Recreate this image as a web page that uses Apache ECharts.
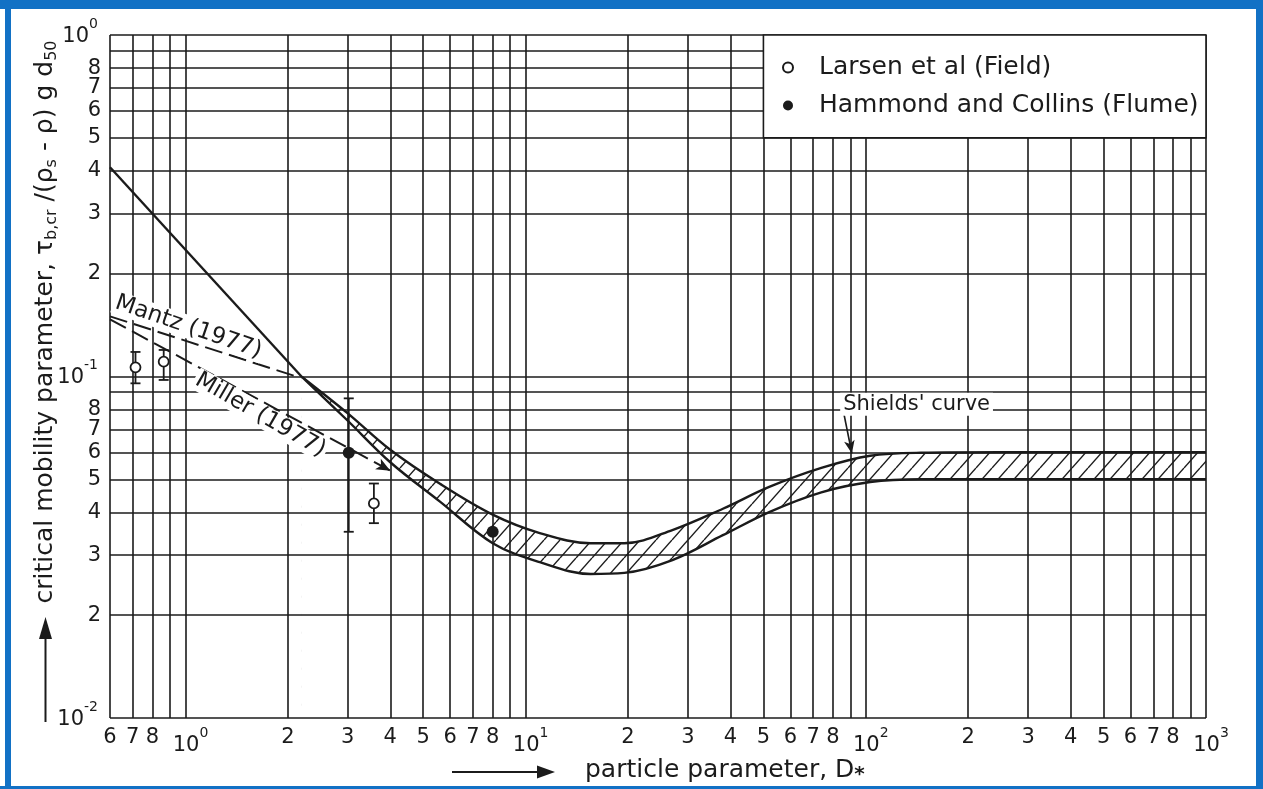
<!DOCTYPE html>
<html>
<head>
<meta charset="utf-8">
<title>Critical mobility parameter vs particle parameter</title>
<script src="https://cdn.jsdelivr.net/npm/echarts@6/dist/echarts.min.js"></script>
<style>
  html, body { margin: 0; padding: 0; background: #ffffff; }
  #chart { width: 1263px; height: 789px; }
</style>
</head>
<body>
<div id="chart"></div>
<script>
// ---------------- data ----------------
// grid lines of the log-log paper
const xGridValues = [0.7, 0.8, 0.9, 1, 2, 3, 4, 5, 6, 7, 8, 9, 10, 20, 30, 40, 50, 60, 70, 80, 90,
                     100, 200, 300, 400, 500, 600, 700, 800, 900, 1000];
const yGridValues = [0.02, 0.03, 0.04, 0.05, 0.06, 0.07, 0.08, 0.09, 0.1,
                     0.2, 0.3, 0.4, 0.5, 0.6, 0.7, 0.8, 0.9, 1];

// tick labels (mantissa digits and powers of ten)
const xTickValues = [0.6, 0.7, 0.8, 2, 3, 4, 5, 6, 7, 8, 20, 30, 40, 50, 60, 70, 80,
                     200, 300, 400, 500, 600, 700, 800];
const xTickLabels = ['6', '7', '8', '2', '3', '4', '5', '6', '7', '8', '2', '3', '4', '5', '6', '7', '8',
                     '2', '3', '4', '5', '6', '7', '8'];
const xPowerValues = [1, 10, 100, 1000];
const xPowerLabels = ['0', '1', '2', '3'];
const yTickValues = [0.02, 0.03, 0.04, 0.05, 0.06, 0.07, 0.08, 0.2, 0.3, 0.4, 0.5, 0.6, 0.7, 0.8];
const yTickLabels = ['2', '3', '4', '5', '6', '7', '8', '2', '3', '4', '5', '6', '7', '8'];
const yPowerValues = [0.01, 0.1, 1];
const yPowerLabels = ['-2', '-1', '0'];

// Shields' curve: steep fine-grain branch, then the band
const steepX = [0.6, 2.2];
const steepY = [0.41, 0.0997];
const bandX     = [2.2, 3, 4, 5.6, 8, 11, 15.5, 19.5, 27, 38, 52, 74, 103, 145, 250, 1000];
const bandUpper = [0.0997, 0.078, 0.061, 0.0485, 0.0394, 0.0348, 0.0325, 0.0325, 0.0355, 0.041,
                   0.0475, 0.054, 0.0586, 0.0598, 0.06, 0.06];
const bandLower = [0.0997, 0.0742, 0.0561, 0.043, 0.0325, 0.0286, 0.0264, 0.0266, 0.029, 0.0343,
                   0.0401, 0.0458, 0.0491, 0.05, 0.05, 0.05];

// Mantz (1977) and Miller (1977) relations
const mantzX = [0.6, 2.15];
const mantzY = [0.15, 0.0995];
const millerX = [0.6, 4.0];
const millerY = [0.147, 0.053];

// Larsen et al (Field): value with error range
const larsenX  = [0.713, 0.863, 3.58];
const larsenY  = [0.1064, 0.1105, 0.0425];
const larsenLo = [0.0955, 0.0977, 0.0372];
const larsenHi = [0.118, 0.1196, 0.0486];

// Hammond and Collins (Flume)
const hammondX  = [3.02, 8.0];
const hammondY  = [0.0598, 0.0351];
const hammondLo = [0.0351, null];
const hammondHi = [0.0863, null];

// ---------------- styling ----------------
const FONT = 'DejaVu Sans';
const INK = '#1b1b1b';
const FRAME = '#1271c5';

const zip = (xs, ys) => xs.map((x, i) => [x, ys[i]]);

function hatchPattern() {
  const w = 16, h = 18;
  const c = document.createElement('canvas');
  c.width = w; c.height = h;
  const ctx = c.getContext('2d');
  ctx.strokeStyle = INK;
  ctx.lineWidth = 1.4;
  for (let k = -1; k <= 1; k++) {
    ctx.beginPath();
    ctx.moveTo(k * w, h);
    ctx.lineTo(k * w + w, 0);
    ctx.stroke();
  }
  return c;
}

function errorBars(name, xs, lo, hi, z) {
  const data = [];
  xs.forEach((x, i) => { if (lo[i] != null) data.push([x, lo[i], hi[i]]); });
  return {
    type: 'custom', name, data, z, silent: true,
    encode: { x: 0, y: [1, 2] },
    renderItem(params, api) {
      const x = api.value(0);
      const a = api.coord([x, api.value(1)]);
      const b = api.coord([x, api.value(2)]);
      const cap = 5;
      const st = { stroke: INK, lineWidth: 1.8 };
      return {
        type: 'group',
        children: [
          { type: 'line', shape: { x1: a[0], y1: a[1], x2: b[0], y2: b[1] }, style: st },
          { type: 'line', shape: { x1: a[0] - cap, y1: a[1], x2: a[0] + cap, y2: a[1] }, style: st },
          { type: 'line', shape: { x1: b[0] - cap, y1: b[1], x2: b[0] + cap, y2: b[1] }, style: st }
        ]
      };
    }
  };
}

function labelSeries(points, labelOpts, z) {
  return {
    type: 'scatter', data: points, symbolSize: 0, silent: true, z: z || 7,
    itemStyle: { opacity: 1 },
    label: Object.assign({
      show: true, position: 'inside', color: INK, fontFamily: FONT,
      textBorderWidth: 0, textBorderColor: 'transparent',
      formatter: p => p.data[2]
    }, labelOpts)
  };
}

const powerRich = {
  b: { fontSize: 21, fontFamily: FONT, color: INK, lineHeight: 30, verticalAlign: 'bottom',
       textBorderWidth: 0 },
  p: { fontSize: 14, fontFamily: FONT, color: INK, lineHeight: 30, verticalAlign: 'top',
       textBorderWidth: 0 }
};

const chart = echarts.init(document.getElementById('chart'), null, { renderer: 'canvas' });

const option = {
  animation: false,
  backgroundColor: '#ffffff',
  tooltip: { show: false },
  grid: { left: 110, right: 57, top: 35, bottom: 71, containLabel: false },
  xAxis: {
    type: 'log', logBase: 10, min: 0.6, max: 1000,
    axisLine: { show: false }, axisTick: { show: false },
    axisLabel: { show: false }, splitLine: { show: false }
  },
  yAxis: {
    type: 'log', logBase: 10, min: 0.01, max: 1,
    axisLine: { show: false }, axisTick: { show: false },
    axisLabel: { show: false }, splitLine: { show: false }
  },
  legend: {
    data: ['Larsen et al (Field)', 'Hammond and Collins (Flume)'],
    orient: 'vertical', left: 777, top: 50, z: 12,
    itemWidth: 10, itemHeight: 10, itemGap: 13,
    icon: 'circle', selectedMode: false,
    textStyle: { fontSize: 25, fontFamily: FONT, color: INK, padding: [0, 0, 0, 21] }
  },
  series: [
    // hatched band between the two Shields boundaries
    {
      type: 'line', name: 'band-upper', data: zip(bandX, bandUpper), smooth: 0.35,
      symbol: 'none', silent: true, z: 1,
      lineStyle: { color: INK, width: 2.4 },
      areaStyle: { color: { image: hatchPattern(), repeat: 'repeat' }, opacity: 1, origin: 'start' }
    },
    {
      type: 'line', name: 'band-lower', data: zip(bandX, bandLower), smooth: 0.35,
      symbol: 'none', silent: true, z: 2,
      lineStyle: { color: INK, width: 2.4 },
      areaStyle: { color: '#ffffff', opacity: 1, origin: 'start' }
    },
    // log-paper grid
    {
      type: 'line', name: 'grid', data: [[1, 0.1]], symbol: 'none', silent: true, z: 3,
      lineStyle: { opacity: 0 },
      markLine: {
        z: 3, silent: true, symbol: 'none', animation: false,
        label: { show: false },
        lineStyle: { color: INK, width: 1.6, type: 'solid' },
        emphasis: { disabled: true },
        data: [
          ...xGridValues.map(v => ({ xAxis: v })),
          ...yGridValues.map(v => ({ yAxis: v })),
          { xAxis: 0.6 }, { yAxis: 0.01 }
        ]
      }
    },
    // steep branch of the threshold curve
    {
      type: 'line', name: 'steep', data: zip(steepX, steepY),
      symbol: 'none', silent: true, z: 4,
      lineStyle: { color: INK, width: 2.4 }
    },
    // Mantz (1977)
    {
      type: 'line', name: 'Mantz (1977)', data: zip(mantzX, mantzY),
      symbol: 'none', silent: true, z: 4,
      lineStyle: { color: INK, width: 2, type: [18, 7] }
    },
    // Miller (1977), ending in an arrow on the band
    {
      type: 'line', name: 'Miller (1977)', data: [], symbol: 'none', silent: true, z: 4,
      markLine: {
        z: 4, silent: true, animation: false, symbol: ['none', 'arrow'], symbolSize: [9, 14],
        label: { show: false },
        emphasis: { disabled: true },
        lineStyle: { color: INK, width: 2, type: [18, 7] },
        data: [[
          { coord: [millerX[0], millerY[0]] },
          { coord: [millerX[1], millerY[1]] }
        ]]
      }
    },
    errorBars('larsen-err', larsenX, larsenLo, larsenHi, 5),
    errorBars('hammond-err', hammondX, hammondLo, hammondHi, 5),
    {
      type: 'scatter', name: 'Larsen et al (Field)', data: zip(larsenX, larsenY),
      symbol: 'circle', symbolSize: 10, silent: true, z: 6,
      itemStyle: { color: '#ffffff', borderColor: INK, borderWidth: 1.8, opacity: 1 }
    },
    {
      type: 'scatter', name: 'Hammond and Collins (Flume)', data: zip(hammondX, hammondY),
      symbol: 'circle', symbolSize: 12, silent: true, z: 6,
      itemStyle: { color: INK, opacity: 1 }
    },
    // tick labels
    labelSeries(xTickValues.map((v, i) => [v, 0.01, xTickLabels[i]]),
      { fontSize: 21, offset: [0, 20] }),
    labelSeries(xPowerValues.map((v, i) => [v, 0.01, '{b|10}{p|' + xPowerLabels[i] + '}']),
      { offset: [5, 23], rich: powerRich }),
    labelSeries(yTickValues.map((v, i) => [0.6, v, yTickLabels[i]]),
      { fontSize: 21, align: 'right', offset: [-9, 0] }),
    labelSeries(yPowerValues.map((v, i) => [0.6, v, '{b|10}{p|' + yPowerLabels[i] + '}']),
      { align: 'right', offset: [-12, -3], rich: powerRich }),
    // curve annotations
    labelSeries([[1.02, 0.1396, 'Mantz (1977)']],
      { fontSize: 23, rotate: -19, backgroundColor: '#ffffff', padding: [0, 2] }, 7),
    labelSeries([[1.66, 0.0771, 'Miller (1977)']],
      { fontSize: 23, rotate: -30, backgroundColor: '#ffffff', padding: [0, 2] }, 7),
    Object.assign(
      labelSeries([[141, 0.083, "Shields' curve"]],
        { fontSize: 21, backgroundColor: '#ffffff', padding: [1, 3] }, 7),
      {
        markLine: {
          z: 7, silent: true, animation: false, label: { show: false },
          emphasis: { disabled: true },
          lineStyle: { color: INK, width: 1.6, type: 'solid' },
          data: [
            [{ coord: [86, 0.0787], symbol: 'none' }, { coord: [233, 0.0787], symbol: 'none' }],
            [{ coord: [86, 0.0787], symbol: 'none' },
             { coord: [91, 0.0595], symbol: 'arrow', symbolSize: [8, 13] }]
          ]
        }
      }
    ),
    // white legend panel in the upper right corner
    {
      type: 'line', name: 'legend-panel', data: [[100, 0.7]], symbol: 'none', silent: true, z: 9,
      lineStyle: { opacity: 0 },
      markArea: {
        z: 9, silent: true, animation: false,
        itemStyle: { color: '#ffffff', borderColor: INK, borderWidth: 1.6 },
        label: { show: false },
        emphasis: { disabled: true },
        data: [[{ coord: [50, 0.5] }, { coord: [1000, 1] }]]
      }
    }
  ],
  graphic: [
    // axis titles
    {
      type: 'text', x: 45, y: 322, rotation: Math.PI / 2, z: 20,
      style: {
        text: '{n|critical mobility parameter, τ}{s|b,cr}{n| /(ρ}{s|s}{n| - ρ) g d}{s|50}',
        align: 'center', verticalAlign: 'middle', fill: INK,
        fontFamily: FONT, fontSize: 25,
        rich: {
          n: { fontSize: 25, fontFamily: FONT, color: INK, lineHeight: 30, verticalAlign: 'middle' },
          s: { fontSize: 16, fontFamily: FONT, color: INK, lineHeight: 30, verticalAlign: 'bottom' }
        }
      }
    },
    {
      type: 'text', x: 585, y: 770, z: 20,
      style: {
        text: '{n|particle parameter, D}{s|*}',
        align: 'left', verticalAlign: 'middle', fill: INK,
        fontFamily: FONT, fontSize: 25,
        rich: {
          n: { fontSize: 25, fontFamily: FONT, color: INK, lineHeight: 30, verticalAlign: 'middle' },
          s: { fontSize: 20, fontFamily: FONT, fontWeight: 'bold', color: INK, lineHeight: 30, verticalAlign: 'bottom' }
        }
      }
    },
    // direction arrows beside the titles
    { type: 'line', z: 20, shape: { x1: 45.5, y1: 722, x2: 45.5, y2: 632 }, style: { stroke: INK, lineWidth: 2 } },
    { type: 'polygon', z: 20, shape: { points: [[45.5, 617], [39, 639], [52, 639]] }, style: { fill: INK } },
    { type: 'line', z: 20, shape: { x1: 452, y1: 772, x2: 542, y2: 772 }, style: { stroke: INK, lineWidth: 2 } },
    { type: 'polygon', z: 20, shape: { points: [[555, 772], [537, 765.5], [537, 778.5]] }, style: { fill: INK } },
    // blue frame
    { type: 'rect', z: 30, shape: { x: 0, y: 0, width: 1263, height: 9 }, style: { fill: FRAME } },
    { type: 'rect', z: 30, shape: { x: 5, y: 0, width: 6, height: 789 }, style: { fill: FRAME } },
    { type: 'rect', z: 30, shape: { x: 1256, y: 0, width: 7, height: 789 }, style: { fill: FRAME } },
    { type: 'rect', z: 30, shape: { x: 0, y: 786, width: 1263, height: 3 }, style: { fill: FRAME } }
  ]
};

chart.setOption(option);
</script>
</body>
</html>
